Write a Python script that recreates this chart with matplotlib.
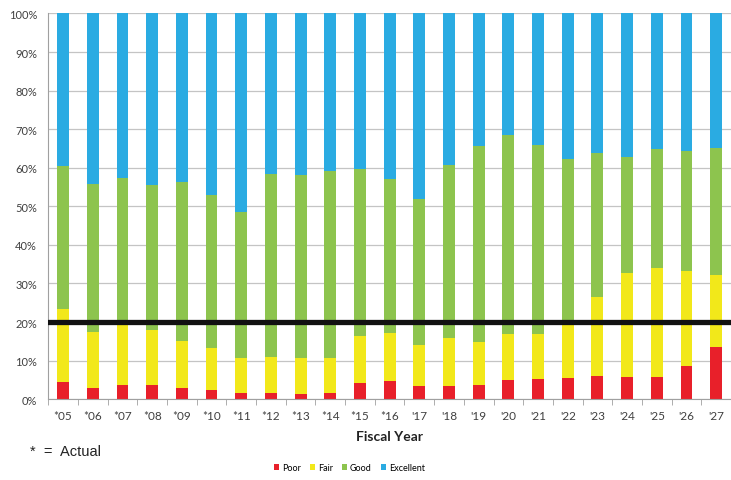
import numpy as np
import matplotlib.pyplot as plt
from matplotlib.patches import Patch
from matplotlib.transforms import blended_transform_factory

years = ['*05', '*06', '*07', '*08', '*09', '*10', '*11', '*12', '*13', '*14', '*15', '*16',
         "'17", "'18", "'19", "'20", "'21", "'22", "'23", "'24", "'25", "'26", "'27"]

# percent of pavement in each condition class
poor = [4.4, 3.0, 3.8, 3.8, 2.8, 2.5, 1.6, 1.6, 1.4, 1.6, 4.1, 4.6,
        3.3, 3.3, 3.7, 5.1, 5.2, 5.5, 6.1, 5.8, 5.8, 8.5, 13.6]
fair = [18.9, 14.3, 16.0, 14.1, 12.3, 10.7, 9.0, 9.3, 9.2, 9.0, 12.2, 12.5,
        10.8, 12.5, 11.0, 11.7, 11.8, 13.8, 20.3, 27.0, 28.2, 24.7, 18.5]
good = [37.1, 38.6, 37.6, 37.5, 41.2, 39.8, 37.9, 47.6, 47.4, 48.5, 43.4, 39.9,
        37.7, 44.8, 50.9, 51.7, 48.8, 42.9, 37.3, 30.1, 30.8, 31.2, 33.0]
excellent = [100 - p - f - g for p, f, g in zip(poor, fair, good)]

target = 20

colors = {'Poor': '#E8202A', 'Fair': '#F2E81A', 'Good': '#8DC44E', 'Excellent': '#2AABE2'}

fig = plt.figure(figsize=(7.31, 4.81), dpi=100)
ax = fig.add_axes([0.066, 0.168, 0.934, 0.802])

x = np.arange(len(years))
bottom = np.zeros(len(years))
for name, vals in [('Poor', poor), ('Fair', fair), ('Good', good), ('Excellent', excellent)]:
    ax.bar(x, vals, width=0.4, bottom=bottom, color=colors[name], zorder=2)
    bottom += np.array(vals)

ax.axhline(target, color='#111111', linewidth=3.8, zorder=3)

ax.set_xlim(-0.5, 22.33)
ax.set_ylim(0, 100)
ax.set_yticks(np.arange(0, 101, 10))
ax.set_yticklabels([f'{v}%' for v in range(0, 101, 10)])
ax.yaxis.grid(True, color='#C4C4C4', linewidth=0.9, zorder=0)
ax.set_axisbelow(True)

ax.set_xticks(x)
ax.set_xticklabels(years)
ax.set_xticks(np.arange(-0.5, 22.6, 1), minor=True)
ax.tick_params(axis='x', which='major', length=0, pad=8, labelsize=8.5, labelcolor='#404040')
ax.tick_params(axis='x', which='minor', length=4, color='#A0A0A0')
ax.tick_params(axis='y', length=0, pad=8, labelsize=8, labelcolor='#404040')
for lbl in ax.get_xticklabels() + ax.get_yticklabels():
    lbl.set_family('Lato')

for side in ['top', 'right']:
    ax.spines[side].set_visible(False)
ax.spines['left'].set_color('#A0A0A0')
ax.spines['bottom'].set_color('#A0A0A0')

trans = blended_transform_factory(ax.transData, fig.transFigure)
fig.text(11, 1 - 437 / 481, 'Fiscal Year', transform=trans, ha='center', va='center',
         fontsize=10, fontweight='bold', family='Lato', color='#222222')

fig.text(0.041, 1 - 452 / 481, '*  =  Actual', ha='left', va='center',
         fontsize=10.5, family='Liberation Sans', color='#222222')

handles = [Patch(facecolor=colors[n], label=n) for n in colors]
fig.legend(handles=handles, loc='center', bbox_to_anchor=(0.478, 1 - 469 / 481), ncol=4,
           frameon=False, handlelength=0.6, handleheight=0.6,
           handletextpad=0.3, columnspacing=1.0, prop={'family': 'Lato', 'size': 6.5})

fig.savefig('out.png', dpi=100)
